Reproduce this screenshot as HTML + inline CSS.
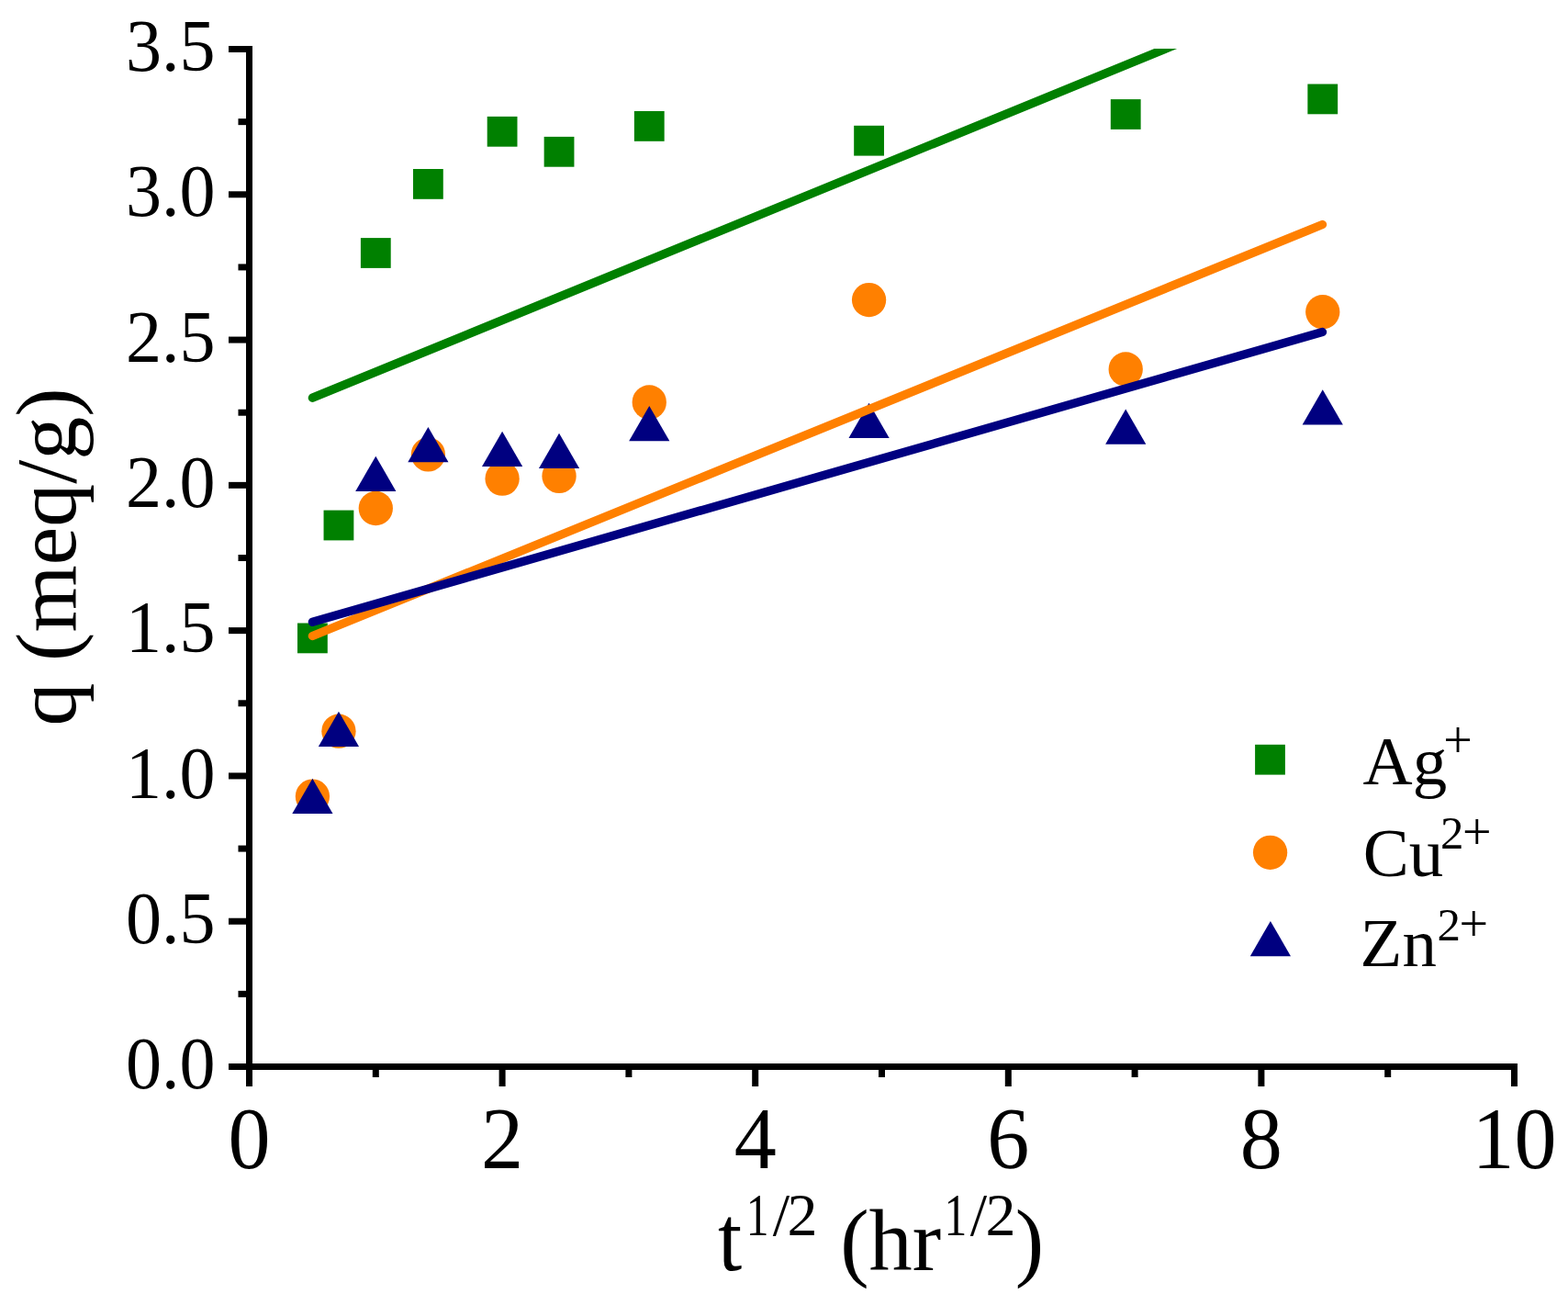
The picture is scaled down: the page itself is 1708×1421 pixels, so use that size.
<!DOCTYPE html><html><head><meta charset="utf-8"><title>q vs t^1/2</title><style>html,body{margin:0;padding:0;background:#fff;width:1708px;height:1421px;overflow:hidden}svg{display:block}</style></head><body><svg width="1708" height="1421" viewBox="0 0 1708 1421" font-family="'Liberation Serif', 'Times New Roman', serif" fill="#000"><defs><clipPath id="plot"><rect x="271.5" y="53" width="1380" height="1110"/></clipPath></defs><rect x="0" y="0" width="1708" height="1421" fill="#fff"/>
<rect x="324.00" y="678.50" width="32.8" height="32.8" fill="#008000"/>
<rect x="352.54" y="555.60" width="32.8" height="32.8" fill="#008000"/>
<rect x="392.90" y="259.10" width="32.8" height="32.8" fill="#008000"/>
<rect x="449.98" y="184.00" width="32.8" height="32.8" fill="#008000"/>
<rect x="530.70" y="126.90" width="32.8" height="32.8" fill="#008000"/>
<rect x="592.64" y="148.90" width="32.8" height="32.8" fill="#008000"/>
<rect x="690.86" y="121.00" width="32.8" height="32.8" fill="#008000"/>
<rect x="930.18" y="136.80" width="32.8" height="32.8" fill="#008000"/>
<rect x="1209.81" y="108.10" width="32.8" height="32.8" fill="#008000"/>
<rect x="1424.37" y="91.50" width="32.8" height="32.8" fill="#008000"/>
<circle cx="340.40" cy="867.10" r="18.65" fill="#ff8000"/>
<circle cx="368.94" cy="796.20" r="18.65" fill="#ff8000"/>
<circle cx="409.30" cy="553.50" r="18.65" fill="#ff8000"/>
<circle cx="466.38" cy="494.90" r="18.65" fill="#ff8000"/>
<circle cx="547.10" cy="521.20" r="18.65" fill="#ff8000"/>
<circle cx="609.04" cy="518.40" r="18.65" fill="#ff8000"/>
<circle cx="707.26" cy="438.00" r="18.65" fill="#ff8000"/>
<circle cx="946.58" cy="326.60" r="18.65" fill="#ff8000"/>
<circle cx="1226.21" cy="402.00" r="18.65" fill="#ff8000"/>
<circle cx="1440.77" cy="339.70" r="18.65" fill="#ff8000"/>
<polygon points="340.40,847.78 318.30,886.06 362.50,886.06" fill="#000080"/>
<polygon points="368.94,774.68 346.84,812.96 391.04,812.96" fill="#000080"/>
<polygon points="409.30,496.68 387.20,534.96 431.40,534.96" fill="#000080"/>
<polygon points="466.38,464.88 444.28,503.16 488.48,503.16" fill="#000080"/>
<polygon points="547.10,469.68 525.00,507.96 569.20,507.96" fill="#000080"/>
<polygon points="609.04,471.78 586.94,510.06 631.14,510.06" fill="#000080"/>
<polygon points="707.26,442.08 685.16,480.36 729.36,480.36" fill="#000080"/>
<polygon points="946.58,438.78 924.48,477.06 968.68,477.06" fill="#000080"/>
<polygon points="1226.21,445.48 1204.11,483.76 1248.31,483.76" fill="#000080"/>
<polygon points="1440.77,424.28 1418.67,462.56 1462.87,462.56" fill="#000080"/>
<g clip-path="url(#plot)" stroke-linecap="round" fill="none">
<line x1="340.4" y1="433.2" x2="1440.6" y2="-16.89" stroke="#008000" stroke-width="9.4"/>
<line x1="340.4" y1="692.5" x2="1440.5" y2="244.5" stroke="#ff8000" stroke-width="9.4"/>
<line x1="340.4" y1="677.3" x2="1440.5" y2="361.5" stroke="#000080" stroke-width="9.4"/>
</g>
<rect x="268" y="50" width="7" height="1115" fill="#000"/>
<rect x="268" y="1158" width="1385" height="7" fill="#000"/>
<rect x="249" y="1158.00" width="20" height="7" fill="#000"/>
<rect x="259.5" y="1078.86" width="10" height="7" fill="#000"/>
<rect x="249" y="999.72" width="20" height="7" fill="#000"/>
<rect x="259.5" y="920.57" width="10" height="7" fill="#000"/>
<rect x="249" y="841.43" width="20" height="7" fill="#000"/>
<rect x="259.5" y="762.29" width="10" height="7" fill="#000"/>
<rect x="249" y="683.14" width="20" height="7" fill="#000"/>
<rect x="259.5" y="604.00" width="10" height="7" fill="#000"/>
<rect x="249" y="524.86" width="20" height="7" fill="#000"/>
<rect x="259.5" y="445.72" width="10" height="7" fill="#000"/>
<rect x="249" y="366.58" width="20" height="7" fill="#000"/>
<rect x="259.5" y="287.43" width="10" height="7" fill="#000"/>
<rect x="249" y="208.29" width="20" height="7" fill="#000"/>
<rect x="259.5" y="129.15" width="10" height="7" fill="#000"/>
<rect x="249" y="50.01" width="20" height="7" fill="#000"/>
<rect x="268.00" y="1164" width="7" height="19" fill="#000"/>
<rect x="405.80" y="1164" width="7" height="9" fill="#000"/>
<rect x="543.60" y="1164" width="7" height="19" fill="#000"/>
<rect x="681.40" y="1164" width="7" height="9" fill="#000"/>
<rect x="819.20" y="1164" width="7" height="19" fill="#000"/>
<rect x="957.00" y="1164" width="7" height="9" fill="#000"/>
<rect x="1094.80" y="1164" width="7" height="19" fill="#000"/>
<rect x="1232.60" y="1164" width="7" height="9" fill="#000"/>
<rect x="1370.40" y="1164" width="7" height="19" fill="#000"/>
<rect x="1508.20" y="1164" width="7" height="9" fill="#000"/>
<rect x="1646.00" y="1164" width="7" height="19" fill="#000"/>
<text transform="translate(234.5,1185.20) scale(0.97,1)" text-anchor="end" font-size="80.5">0.0</text>
<text transform="translate(234.5,1026.91) scale(0.97,1)" text-anchor="end" font-size="80.5">0.5</text>
<text transform="translate(234.5,868.63) scale(0.97,1)" text-anchor="end" font-size="80.5">1.0</text>
<text transform="translate(234.5,710.35) scale(0.97,1)" text-anchor="end" font-size="80.5">1.5</text>
<text transform="translate(234.5,552.06) scale(0.97,1)" text-anchor="end" font-size="80.5">2.0</text>
<text transform="translate(234.5,393.78) scale(0.97,1)" text-anchor="end" font-size="80.5">2.5</text>
<text transform="translate(234.5,235.49) scale(0.97,1)" text-anchor="end" font-size="80.5">3.0</text>
<text transform="translate(234.5,77.21) scale(0.97,1)" text-anchor="end" font-size="80.5">3.5</text>
<text transform="translate(271.50,1272) scale(0.96,1)" text-anchor="middle" font-size="96">0</text>
<text transform="translate(547.10,1272) scale(0.96,1)" text-anchor="middle" font-size="96">2</text>
<text transform="translate(822.70,1272) scale(0.96,1)" text-anchor="middle" font-size="96">4</text>
<text transform="translate(1098.30,1272) scale(0.96,1)" text-anchor="middle" font-size="96">6</text>
<text transform="translate(1373.90,1272) scale(0.96,1)" text-anchor="middle" font-size="96">8</text>
<text transform="translate(1649.50,1272) scale(0.96,1)" text-anchor="middle" font-size="96">10</text>
<text transform="translate(81.8,790.4) rotate(-90)" font-size="94">q (meq/g)</text>
<text transform="translate(782.1,1383) scale(1,1.07)" font-size="94.3">t</text>
<text transform="translate(825.0,1344.6) scale(0.75,1)" text-anchor="middle" font-size="66">1</text><text x="851.0" y="1344.6" text-anchor="middle" font-size="66">/</text><text x="873.95" y="1344.6" text-anchor="middle" font-size="66">2</text>
<text x="915.2" y="1383" font-size="94.3">(hr</text>
<text transform="translate(1040.85,1344.6) scale(0.75,1)" text-anchor="middle" font-size="66">1</text><text x="1066.0" y="1344.6" text-anchor="middle" font-size="66">/</text><text x="1089.95" y="1344.6" text-anchor="middle" font-size="66">2</text>
<text x="1105.8" y="1383" font-size="94.3">)</text>
<rect x="1367.10" y="810.80" width="32.8" height="32.8" fill="#008000"/>
<circle cx="1383.60" cy="928.30" r="18.65" fill="#ff8000"/>
<polygon points="1383.90,1002.88 1361.80,1041.16 1406.00,1041.16" fill="#000080"/>
<text x="1484.5" y="853.5" font-size="75">Ag</text>
<text x="1572.2" y="824.65" font-size="56">+</text>
<text x="1484.7" y="953.5" font-size="75">Cu</text>
<text x="1569.0" y="923.5" font-size="51">2</text>
<text x="1593.1" y="924.85" font-size="56">+</text>
<text x="1481.6" y="1052.3" font-size="75">Zn</text>
<text x="1565.4" y="1023.8" font-size="51">2</text>
<text x="1589.5" y="1024.75" font-size="56">+</text></svg></body></html>
